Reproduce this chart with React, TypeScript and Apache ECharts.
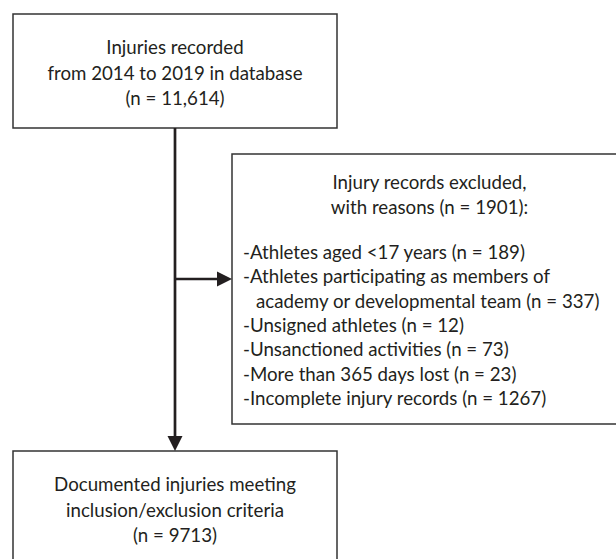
import { useEffect, useRef } from "react";
import * as echarts from "echarts";

// ---- data ----
const recordedYears = [2014, 2019];
const recordedTotal = 11614;
const excludedTotal = 1901;
const exclusionReasons = [
  ["Athletes aged <17 years"],
  ["Athletes participating as members of", "academy or developmental team"],
  ["Unsigned athletes"],
  ["Unsanctioned activities"],
  ["More than 365 days lost"],
  ["Incomplete injury records"],
];
const exclusionCounts = [189, 337, 12, 73, 23, 1267];
const includedTotal = 9713;

const FONT = "Lato, 'Open Sans', sans-serif";
const INK = "#231f20";
const FS = 18.7;

function txt(text: string, x: number, y: number, align: string) {
  return {
    type: "text",
    x,
    y,
    style: {
      text,
      fill: INK,
      fontSize: FS,
      fontFamily: FONT,
      align,
      verticalAlign: "middle",
      textAlign: align,
      textVerticalAlign: "middle",
    },
  };
}

export default function App() {
  const ref = useRef<HTMLDivElement>(null);
  useEffect(() => {
    if (!ref.current) return;
    const chart = echarts.init(ref.current, null, { renderer: "svg" });
    const els: any[] = [];
    const boxStyle = { fill: "#fff", stroke: "#333333", lineWidth: 1.5 };

    // boxes (right and bottom boxes run past the picture's edges)
    const top = { x: 13, y: 14, w: 324, h: 114 };
    const right = { x: 232, y: 154, w: 395, h: 270 };
    const bottom = { x: 13, y: 451, w: 324, h: 115 };
    [top, right, bottom].forEach((b) =>
      els.push({ type: "rect", shape: { x: b.x, y: b.y, width: b.w, height: b.h }, style: boxStyle })
    );

    // connectors
    const cx = 175;
    const armY = 279;
    const head = 15;
    els.push({ type: "line", shape: { x1: cx, y1: top.y + top.h, x2: cx, y2: bottom.y - head + 1 }, style: { stroke: INK, lineWidth: 2.7 } });
    els.push({ type: "polygon", shape: { points: [[cx - 7.5, bottom.y - head], [cx + 7.5, bottom.y - head], [cx, bottom.y]] }, style: { fill: INK } });
    els.push({ type: "line", shape: { x1: cx, y1: armY, x2: right.x - head + 1, y2: armY }, style: { stroke: INK, lineWidth: 2.7 } });
    els.push({ type: "polygon", shape: { points: [[right.x - head, armY - 7.5], [right.x - head, armY + 7.5], [right.x, armY]] }, style: { fill: INK } });

    // top box text
    const topLines = [
      "Injuries recorded",
      `from ${recordedYears[0]} to ${recordedYears[1]} in database`,
      `(n = ${recordedTotal.toLocaleString("en-US")})`,
    ];
    topLines.forEach((t, i) => els.push(txt(t, cx, 47 + i * 25.5, "center")));

    // right box
    const rc = 429.5;
    els.push(txt("Injury records excluded,", rc, 182, "center"));
    els.push(txt(`with reasons (n = ${excludedTotal}):`, rc, 207, "center"));
    let ly = 252;
    exclusionReasons.forEach((lines, i) => {
      lines.forEach((l, j) => {
        const last = j === lines.length - 1;
        const label = (j === 0 ? "-" : "") + l + (last ? ` (n = ${exclusionCounts[i]})` : "");
        els.push(txt(label, j === 0 ? 243 : 256, ly, "left"));
        ly += 24.3;
      });
    });

    // bottom box
    ["Documented injuries meeting", "inclusion/exclusion criteria", `(n = ${includedTotal})`].forEach((t, i) =>
      els.push(txt(t, cx, 484 + i * 25.5, "center"))
    );

    chart.setOption({ animation: false, graphic: { elements: els } });
    return () => chart.dispose();
  }, []);
  return (
    <div
      ref={ref}
      style={{ position: "fixed", left: 0, top: 0, width: 616, height: 559, background: "#fff", overflow: "hidden" }}
    />
  );
}
